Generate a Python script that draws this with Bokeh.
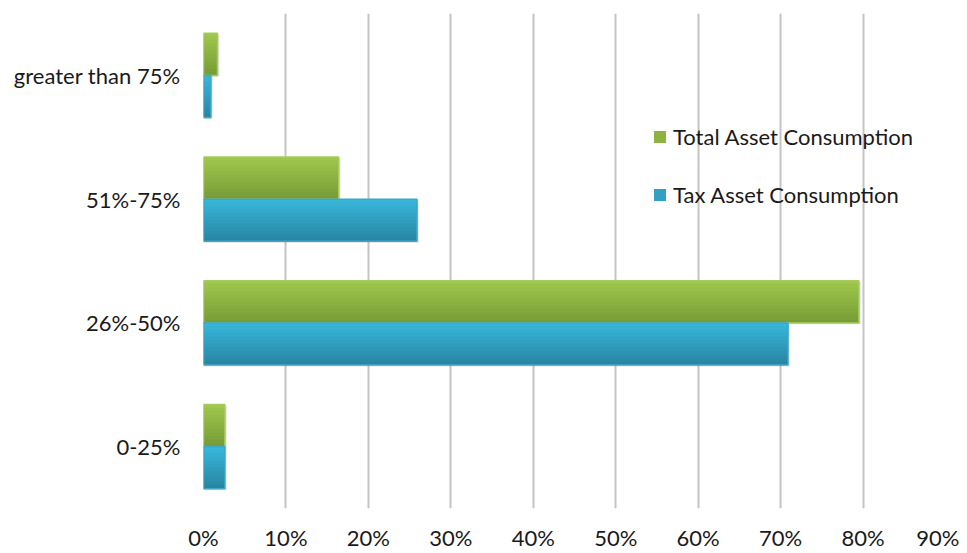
from bokeh.plotting import figure
from bokeh.models import (Range1d, FixedTicker, NumeralTickFormatter, Legend, LegendItem)
from bokeh.embed import file_html
from bokeh.resources import INLINE

categories = ["0-25%", "26%-50%", "51%-75%", "greater than 75%"]
total_asset = [0.026, 0.795, 0.164, 0.017]
tax_asset = [0.026, 0.709, 0.259, 0.009]
x_ticks = [0.0, 0.1, 0.2, 0.3, 0.4, 0.5, 0.6, 0.7, 0.8, 0.9]
series_names = ["Total Asset Consumption", "Tax Asset Consumption"]

FONT = "Lato"
FS = "22px"
BAR_H = 0.34
N_STRIPS = 12

p = figure(width=959, height=553, output_backend="svg", toolbar_location=None,
           x_range=Range1d(0, 0.9), y_range=Range1d(-0.5, len(categories) - 0.5),
           min_border_left=203, min_border_right=14, min_border_top=13, min_border_bottom=41)
p.outline_line_color = None
p.background_fill_color = "white"
p.border_fill_color = "white"

# axes
p.xaxis.ticker = FixedTicker(ticks=x_ticks)
p.xaxis.formatter = NumeralTickFormatter(format="0%")
p.yaxis.ticker = FixedTicker(ticks=list(range(len(categories))))
p.yaxis.major_label_overrides = {i: c for i, c in enumerate(categories)}
for ax in (p.xaxis[0], p.yaxis[0]):
    ax.axis_line_color = None
    ax.major_tick_line_color = None
    ax.minor_tick_line_color = None
    ax.major_tick_out = 0
    ax.major_tick_in = 0
    ax.minor_tick_out = 0
    ax.major_label_text_font = FONT
    ax.major_label_text_font_size = FS
    ax.major_label_text_color = "#1a1a1a"
p.xaxis.major_label_standoff = 15
p.yaxis.major_label_standoff = 23

p.xgrid.grid_line_color = "#c4c4c4"
p.xgrid.grid_line_width = 2
p.ygrid.grid_line_color = None


def lerp(c1, c2, t):
    a = [int(c1[i:i + 2], 16) for i in (1, 3, 5)]
    b = [int(c2[i:i + 2], 16) for i in (1, 3, 5)]
    return "#%02x%02x%02x" % tuple(round(a[k] + (b[k] - a[k]) * t) for k in range(3))


styles = [
    dict(vals=total_asset, off=+BAR_H / 2, top="#9fc74c", bot="#789c37", edge="#a5cb5c", mid="#8db443"),
    dict(vals=tax_asset, off=-BAR_H / 2, top="#38b6d9", bot="#2886a5", edge="#3fa6c6", mid="#30a0c3"),
]

legend_items = []
for name, st in zip(series_names, styles):
    ys = [i + st["off"] for i in range(len(categories))]
    # shadow
    p.hbar(y=[y - 0.012 for y in ys], right=[v + 0.002 for v in st["vals"]], left=0,
           height=BAR_H, fill_color="#000000", fill_alpha=0.12, line_color=None)
    base = p.hbar(y=ys, right=st["vals"], left=0, height=BAR_H,
                  fill_color=st["mid"], line_color=None)
    legend_items.append(LegendItem(label=name, renderers=[base]))
    sh = BAR_H / N_STRIPS
    for k in range(N_STRIPS):
        t = k / (N_STRIPS - 1)
        col = lerp(st["top"], st["bot"], t)
        sy = [y + BAR_H / 2 - sh * (k + 0.5) for y in ys]
        p.hbar(y=sy, right=st["vals"], left=0, height=sh * 1.05,
               fill_color=col, line_color=None)
    p.hbar(y=ys, right=st["vals"], left=0, height=BAR_H,
           fill_color=None, line_color=st["edge"], line_width=1.5)

legend = Legend(items=legend_items, location=(449, 300), orientation="vertical",
                background_fill_alpha=0, border_line_color=None,
                padding=0, margin=0, spacing=31, label_standoff=6,
                glyph_width=15, glyph_height=15,
                label_text_font=FONT, label_text_font_size=FS,
                label_text_color="#1a1a1a")
p.add_layout(legend)

open("out.html", "w").write(file_html(p, INLINE))
